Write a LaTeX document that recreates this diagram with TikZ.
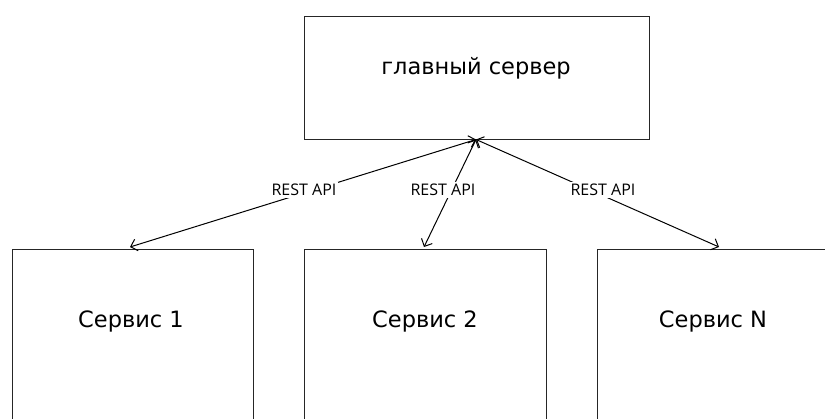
\documentclass[tikz,border=0pt]{standalone}
\usepackage{fontspec}
\setmainfont{DejaVu Sans}
\newfontfamily\lblfont{Open Sans}
\usetikzlibrary{arrows.meta}
\begin{document}
\begin{tikzpicture}[x=1pt,y=-1pt,
  box/.style={draw=black!85,line width=0.9pt,inner sep=0pt,anchor=north west},
  txt/.style={font=\fontsize{22.5}{26}\selectfont,inner sep=0pt},
  api/.style={font=\lblfont\fontsize{16}{19}\selectfont,fill=white,inner sep=2pt},
  link/.style={line width=1pt,{Straight Barb[length=6pt,width=12pt]}-{Straight Barb[length=6pt,width=12pt]}}]
\useasboundingbox (0,0) rectangle (825,419);
\clip (0,0) rectangle (825,419);
\node[box,minimum width=345pt,minimum height=123pt] (main) at (304,16) {};
\node[txt] (maintxt) at (476,68) {главный сервер};
\node[box,minimum width=241pt,minimum height=200pt] (s1) at (11.5,249.5) {};
\node[box,minimum width=242pt,minimum height=200pt] (s2) at (304,249.5) {};
\node[box,minimum width=400pt,minimum height=200pt] (s3) at (597,249.5) {};
\node[txt] (t1) at (131,321) {Сервис 1};
\node[txt] (t2) at (425,321) {Сервис 2};
\node[txt] (t3) at (713,321) {Сервис N};
\coordinate (hub) at (476,139.5);
\coordinate (e1) at (130,247);
\coordinate (e2) at (424,247);
\coordinate (e3) at (719,247);
\draw[link] (hub) -- (e1);
\draw[link] (hub) -- (e2);
\draw[link] (hub) -- (e3);
\node[api] (l1) at (304,190) {REST API};
\node[api] (l2) at (443,190) {REST API};
\node[api] (l3) at (603,190) {REST API};
\end{tikzpicture}
\end{document}
